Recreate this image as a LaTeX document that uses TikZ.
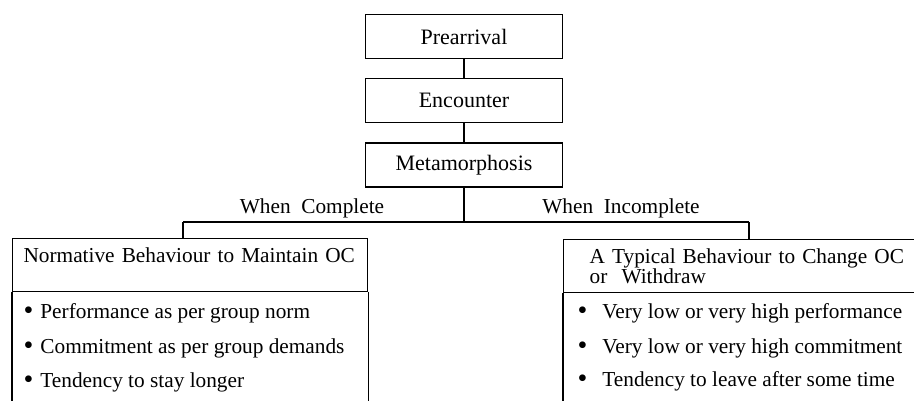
\documentclass[tikz,border=0pt]{standalone}
\usepackage{fontspec}
\setmainfont{Liberation Serif}
\usetikzlibrary{positioning}
\newcommand{\bul}{\raisebox{-1pt}{\fontsize{28}{28}\selectfont\textbullet}}

\begin{document}
\begin{tikzpicture}[x=1pt,y=-1pt,line width=1.2pt]
	\tikzstyle{stage}=[draw=black,minimum width=197pt,minimum height=44pt,inner sep=0pt,font=\fontsize{22}{24}\selectfont]
	\tikzstyle{head}=[draw=black,anchor=north west,minimum height=53pt,align=left,font=\fontsize{21.3}{20}\selectfont]
	\tikzstyle{lbl}=[inner sep=1pt,font=\fontsize{21.3}{24}\selectfont]
	\tikzstyle{item}=[anchor=west,inner sep=0pt,font=\fontsize{21.3}{24}\selectfont]
	\useasboundingbox (0,0) rectangle (914,401);
	\clip (0,0) rectangle (914,401);
	% stages
	\node[stage] (pre) at (464,36.5) {Prearrival};
	\node[stage] (enc) at (464,100.5) {Encounter};
	\node[stage] (meta) at (464,165) {Metamorphosis};
	\draw (pre) -- (enc);
	\draw (enc) -- (meta);
	% branches
	\coordinate (split) at (464,222);
	\coordinate (lsplit) at (183,222);
	\coordinate (rsplit) at (749,222);
	\node[lbl] (wc) at (312,208) {When\ \ Complete};
	\node[lbl] (wi) at (621,208) {When\ \ Incomplete};
	\node[head,text width=333pt,inner xsep=11pt] (lhead) at (12,238) {Normative Behaviour to Maintain OC\\ \mbox{}};
	\node[head,text width=360pt,inner xsep=26pt] (rhead) at (563,239) {A Typical Behaviour to Change OC\\or\ \ Withdraw};
	\draw (meta) -- (split);
	\draw (lsplit) -- (rsplit);
	\draw (lsplit) -- (lsplit |- lhead.north);
	\draw (rsplit) -- (rsplit |- rhead.north);
	% bodies
	\draw (lhead.south west) -- ++(0,130);
	\draw (lhead.south east) -- ++(0,130);
	\draw (rhead.south west) -- ++(0,130);
	\node[item] (l1) at (23,313) {\bul\hspace{7pt}Performance as per group norm};
	\node[item] (l2) at (23,348) {\bul\hspace{7pt}Commitment as per group demands};
	\node[item] (l3) at (23,382) {\bul\hspace{7pt}Tendency to stay longer};
	\node[item] (r1) at (577,313) {\bul\hspace{15pt}Very low or very high performance};
	\node[item] (r2) at (577,348) {\bul\hspace{15pt}Very low or very high commitment};
	\node[item] (r3) at (577,381) {\bul\hspace{15pt}Tendency to leave after some time};
\end{tikzpicture}
\end{document}
